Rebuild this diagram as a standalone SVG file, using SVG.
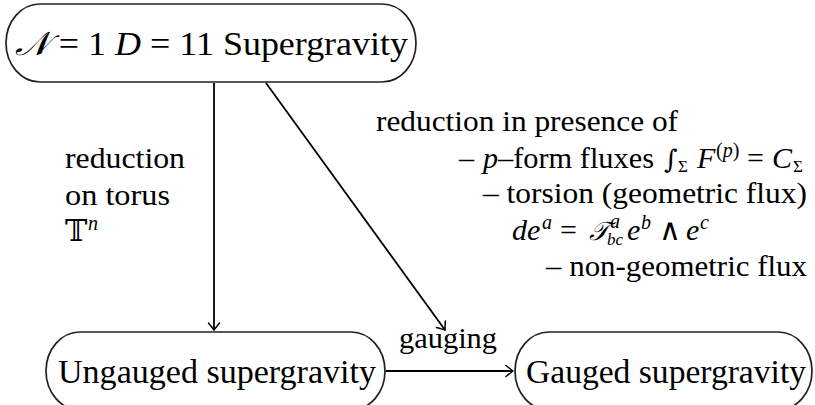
<svg xmlns="http://www.w3.org/2000/svg" width="815" height="405" viewBox="0 0 815 405">
<style>
.box{fill:#fff;stroke:#222;stroke-width:1.7}
.t{font-family:'Liberation Serif','Times New Roman','DejaVu Serif',serif;fill:#000}
.node{font-size:33px}
.lab{font-size:30px}
.sm{font-size:20px}
.xs{font-size:17px}
.i{font-style:italic}
.edge{stroke:#000;stroke-width:1.8;fill:none}
.m{font-family:'DejaVu Serif','DejaVu Sans',serif}
</style>
<defs>
<marker id="arr" markerUnits="userSpaceOnUse" markerWidth="14" markerHeight="14" viewBox="-10 -7 12 14" refX="0" refY="0" orient="auto">
<path d="M -7 -5.5 Q -2 -1.5 0 0 Q -2 1.5 -7 5.5" fill="none" stroke="#000" stroke-width="1.5" stroke-linecap="round"/>
</marker>
</defs>
<rect width="815" height="405" fill="#fff"/>
<g id="connectors">
<line class="edge" x1="214" y1="83" x2="214" y2="330" marker-end="url(#arr)"/>
<line class="edge" x1="266" y1="83" x2="445" y2="330" marker-end="url(#arr)"/>
<line class="edge" x1="386" y1="371" x2="513" y2="371" marker-end="url(#arr)"/>
</g>
<g id="node-sugra11">
<rect class="box" x="6" y="4" width="410" height="78" rx="34" ry="39"/>
<text class="t node" x="15" y="55" textLength="393" lengthAdjust="spacingAndGlyphs"><tspan class="m i">𝒩</tspan> = 1 <tspan class="i">D</tspan> = 11 Supergravity</text>
</g>
<g id="node-ungauged">
<rect class="box" x="46" y="332" width="339" height="78" rx="34" ry="39"/>
<text class="t node" x="58" y="383" textLength="318" lengthAdjust="spacingAndGlyphs">Ungauged supergravity</text>
</g>
<g id="node-gauged">
<rect class="box" x="515" y="332" width="297" height="78" rx="34" ry="39"/>
<text class="t node" x="526" y="383" textLength="280" lengthAdjust="spacingAndGlyphs">Gauged supergravity</text>
</g>
<g id="labels">
<text class="t lab" x="65" y="168" textLength="120" lengthAdjust="spacingAndGlyphs">reduction</text>
<text class="t lab" x="65" y="205" textLength="105" lengthAdjust="spacingAndGlyphs">on torus</text>
<text class="t lab" x="65" y="241"><tspan class="m">𝕋</tspan><tspan class="i sm" x="88" y="230">n</tspan></text>
<text class="t lab" x="376" y="131" textLength="302" lengthAdjust="spacingAndGlyphs">reduction in presence of</text>
<text class="t lab" y="168"><tspan x="459">– </tspan><tspan class="i" x="483">p</tspan><tspan x="498" textLength="156" lengthAdjust="spacingAndGlyphs">–form fluxes</tspan><tspan class="m" x="664" font-size="26px">∫</tspan><tspan class="xs" x="678" y="172">Σ</tspan><tspan class="i" x="697" y="168">F</tspan><tspan class="sm" x="716" y="157">(<tspan class="i">p</tspan>)</tspan><tspan x="747" y="168">=</tspan><tspan class="i" x="772">C</tspan><tspan class="xs" x="793" y="172">Σ</tspan></text>
<text class="t lab" x="483" y="203" textLength="324" lengthAdjust="spacingAndGlyphs">– torsion (geometric flux)</text>
<text class="t lab" y="240"><tspan class="i" x="512">de</tspan><tspan class="i sm" x="542" y="229">a</tspan><tspan x="560" y="240">=</tspan><tspan class="m i" x="589" font-size="26px">𝒯</tspan><tspan class="i sm" x="610" y="228">a</tspan><tspan class="i xs" x="607" y="245">bc</tspan><tspan class="i" x="627" y="240">e</tspan><tspan class="i sm" x="641" y="229">b</tspan><tspan x="659" y="240">∧</tspan><tspan class="i" x="686">e</tspan><tspan class="i sm" x="700" y="229">c</tspan></text>
<text class="t lab" x="546" y="276" textLength="261" lengthAdjust="spacingAndGlyphs">– non-geometric flux</text>
<text class="t lab" x="399" y="348" textLength="98" lengthAdjust="spacingAndGlyphs">gauging</text>
</g>
</svg>
